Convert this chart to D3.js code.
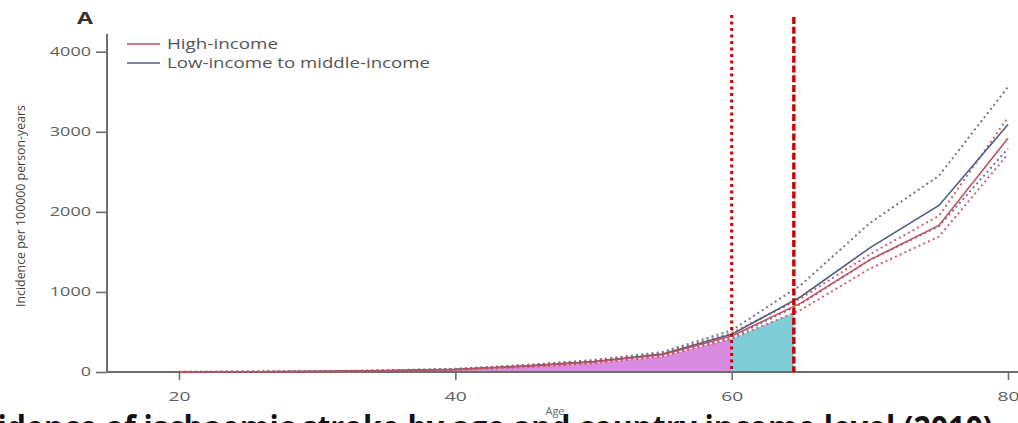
<!DOCTYPE html>
<html>
<head>
<meta charset="utf-8">
<script src="https://cdn.jsdelivr.net/npm/d3@7"></script>
<style>
  html, body { margin: 0; padding: 0; background: #fff; overflow: hidden; }
  svg { display: block; }
</style>
</head>
<body>
<svg id="chart" width="1018" height="423"></svg>
<script>
// Age points (years) and incidence per 100 000 person-years
const ages = [20, 25, 30, 35, 40, 45, 50, 55, 60, 65, 70, 75, 80];

const highIncome   = [1, 3, 7, 16, 32, 70, 125, 215, 450, 860, 1400, 1830, 2920];
const highIncomeLo = [1, 2, 5, 13, 27, 60, 110, 195, 415, 775, 1290, 1690, 2720];
const highIncomeHi = [2, 4, 9, 19, 37, 80, 140, 235, 485, 920, 1470, 1950, 3180];

const lowMidIncome   = [1, 3, 8, 17, 34, 75, 130, 225, 470, 940, 1550, 2080, 3090];
const lowMidIncomeLo = [1, 2, 6, 14, 29, 65, 115, 205, 430, 850, 1400, 1820, 2790];
const lowMidIncomeHi = [2, 5, 10, 21, 40, 88, 150, 250, 520, 1085, 1860, 2450, 3560];

const yTicks = [0, 1000, 2000, 3000, 4000];
const xTicks = [20, 40, 60, 80];

const legendLabels = ["High-income", "Low-income to middle-income"];

// Shaded age bands and reference ages
const bandPre  = [15, 60];
const bandPost = [60, 64.5];
const refAges  = [60, 64.5];

const titleText = "Incidence of ischaemic stroke by age and country income level (2010)";

const svg = d3.select("#chart");
const W = 1018, H = 423;

const x = d3.scaleLinear().domain([20, 80]).range([179, 1008]);
const y = d3.scaleLinear().domain([0, 4000]).range([372, 51.7]);

const RED = "#c4505f", RED_DOT = "#d0606e";
const BLUE = "#4d5d82", BLUE_DOT = "#6f7890";
const AXIS = "#6e6e6e";
const FONT = "'Open Sans', 'DejaVu Sans', sans-serif";

// ---- shaded areas under the high-income curve ----
const defs = svg.append("defs");
[["clipPre", bandPre], ["clipPost", bandPost]].forEach(([id, b]) => {
  defs.append("clipPath").attr("id", id)
    .append("rect")
    .attr("x", x(b[0])).attr("y", 0)
    .attr("width", x(b[1]) - x(b[0])).attr("height", H);
});

const area = d3.area()
  .x((d, i) => x(ages[i]))
  .y0(y(0))
  .y1(d => y(d));

svg.append("path").datum(highIncomeLo)
  .attr("d", area).attr("fill", "#d88be0")
  .attr("clip-path", "url(#clipPre)");
svg.append("path").datum(highIncomeLo)
  .attr("d", area).attr("fill", "#7fcdd6")
  .attr("clip-path", "url(#clipPost)");

// ---- axes ----
const yAxis = d3.axisLeft(y).tickValues(yTicks).tickSize(11).tickPadding(5)
  .tickFormat(d => String(d));
const gy = svg.append("g").attr("transform", "translate(107,0)").call(yAxis);
gy.select(".domain").remove();
gy.selectAll(".tick line").attr("stroke", AXIS).attr("stroke-width", 1.6);
gy.selectAll(".tick text")
  .attr("fill", "#5e5e5e").style("font-family", FONT).style("font-size", "12px")
  .attr("textLength", d => String(d).length * 10.3)
  .attr("lengthAdjust", "spacingAndGlyphs");

const xAxis = d3.axisBottom(x).tickValues(xTicks).tickSize(8).tickPadding(12)
  .tickFormat(d => String(d));
const gx = svg.append("g").attr("transform", "translate(0,372)").call(xAxis);
gx.select(".domain").remove();
gx.selectAll(".tick line").attr("stroke", AXIS).attr("stroke-width", 1.6);
gx.selectAll(".tick text")
  .attr("fill", "#5e5e5e").style("font-family", FONT).style("font-size", "13px")
  .attr("textLength", 22).attr("lengthAdjust", "spacingAndGlyphs");

// axis lines
svg.append("line")
  .attr("x1", 107).attr("x2", 107)
  .attr("y1", y(0)).attr("y2", 34)
  .attr("stroke", AXIS).attr("stroke-width", 2);
svg.append("line")
  .attr("x1", 107).attr("x2", W)
  .attr("y1", y(0)).attr("y2", y(0))
  .attr("stroke", AXIS).attr("stroke-width", 2);

// ---- series lines ----
const line = d3.line().x((d, i) => x(ages[i])).y(d => y(d));
const series = [
  { values: lowMidIncomeHi, color: BLUE_DOT, dash: "2,3.2", width: 2 },
  { values: lowMidIncomeLo, color: BLUE_DOT, dash: "2,3.2", width: 2 },
  { values: highIncomeHi,   color: RED_DOT,  dash: "2,3.2", width: 2 },
  { values: highIncomeLo,   color: RED_DOT,  dash: "2,3.2", width: 2 },
  { values: lowMidIncome,   color: BLUE,     dash: null,    width: 1.6 },
  { values: highIncome,     color: RED,      dash: null,    width: 1.6 }
];
series.forEach(s => {
  svg.append("path").datum(s.values)
    .attr("d", line)
    .attr("fill", "none")
    .attr("stroke", s.color)
    .attr("stroke-width", s.width)
    .attr("stroke-dasharray", s.dash);
});

// ---- reference age lines ----
svg.append("line")
  .attr("x1", x(refAges[0])).attr("x2", x(refAges[0]))
  .attr("y1", 15).attr("y2", y(0))
  .attr("stroke", "#cc0000").attr("stroke-width", 3)
  .attr("stroke-dasharray", "3,3.5");
svg.append("line")
  .attr("x1", x(refAges[1])).attr("x2", x(refAges[1]))
  .attr("y1", 17).attr("y2", y(0))
  .attr("stroke", "#cc0000").attr("stroke-width", 3.4)
  .attr("stroke-dasharray", "7,2.7");

// ---- legend ----
const legend = svg.append("g");
legendLabels.forEach((lab, i) => {
  const ly = 44 + i * 19;
  legend.append("line")
    .attr("x1", 127).attr("x2", 160).attr("y1", ly).attr("y2", ly)
    .attr("stroke", i === 0 ? RED : BLUE).attr("stroke-width", 1.4);
  legend.append("text")
    .attr("x", 167).attr("y", ly + 5)
    .attr("fill", "#555").style("font-family", FONT).style("font-size", "14px")
    .attr("textLength", i === 0 ? 111 : 263)
    .attr("lengthAdjust", "spacingAndGlyphs")
    .text(lab);
});

// ---- labels ----
svg.append("text")
  .attr("x", 77).attr("y", 24)
  .attr("fill", "#333").style("font-family", FONT)
  .style("font-size", "16px").style("font-weight", "bold")
  .attr("textLength", 16).attr("lengthAdjust", "spacingAndGlyphs")
  .text("A");

svg.append("text")
  .attr("transform", "translate(25,206) rotate(-90)")
  .attr("text-anchor", "middle")
  .attr("fill", "#444").style("font-family", FONT).style("font-size", "13px")
  .attr("textLength", 202).attr("lengthAdjust", "spacingAndGlyphs")
  .text("Incidence per 100000 person-years");

// caption across the bottom edge, partly beyond the frame
svg.append("text")
  .attr("x", -48).attr("y", 440)
  .attr("fill", "#111").style("font-family", FONT)
  .style("font-size", "34px").style("font-weight", "bold")
  .attr("textLength", 1041).attr("lengthAdjust", "spacingAndGlyphs")
  .text(titleText);

svg.append("text")
  .attr("x", 555).attr("y", 415)
  .attr("text-anchor", "middle")
  .attr("fill", "#666").style("font-family", FONT).style("font-size", "11px")
  .text("Age");
</script>
</body>
</html>
